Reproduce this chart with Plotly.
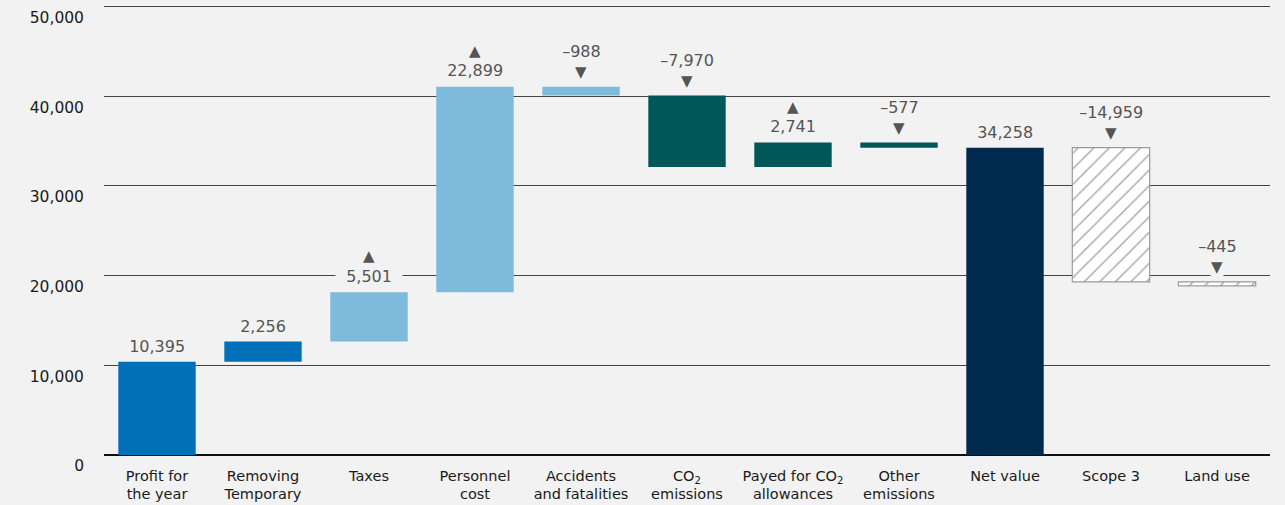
import plotly.graph_objects as go

categories = ["Profit for<br>the year", "Removing<br>Temporary", "Taxes", "Personnel<br>cost",
              "Accidents<br>and fatalities", "CO<sub>2</sub><br>emissions",
              "Payed for CO<sub>2</sub><br>allowances", "Other<br>emissions",
              "Net value", "Scope 3", "Land use"]
values = [10395, 2256, 5501, 22899, -988, -7970, 2741, -577, 34258, -14959, -445]
kinds = ["total", "delta_plain", "delta", "delta", "delta", "delta", "delta", "delta", "total", "delta", "delta"]
colors = ["#0070b8", "#0070b8", "#7dbadc", "#7dbadc", "#7dbadc", "#00575a", "#00575a", "#00575a",
          "#002a4e", "#ffffff", "#ffffff"]
hatched = [False] * 9 + [True, True]
y_ticks = [0, 10000, 20000, 30000, 40000, 50000]

# compute floating bar bases from running total
bases, heights, tops = [], [], []
running = 0
for v, k in zip(values, kinds):
    if k == "total":
        base = 0
        running = v
        top = v
        h = v
    else:
        start = running
        running = running + v
        base = min(start, running)
        h = abs(v)
        top = max(start, running)
    bases.append(base)
    heights.append(h)
    tops.append(top)

fig = go.Figure()
fig.add_trace(go.Bar(
    x=categories, y=heights, base=bases, width=0.73,
    marker=dict(
        color=colors,
        line=dict(color=["#9a9a9a" if h else "rgba(0,0,0,0)" for h in hatched],
                  width=[1.2 if h else 0 for h in hatched]),
        pattern=dict(shape=["/" if h else "" for h in hatched], fgcolor="#8a8a8a",
                     size=11, solidity=0.12, fillmode="overlay"),
    ),
    hoverinfo="skip", showlegend=False,
))

label_color = "#555555"
num_font = dict(family="DejaVu Sans", size=16, color=label_color)
tri_font = dict(family="DejaVu Sans", size=15, color=label_color)
bg = "#f2f2f2"
pad = "\u00a0\u00a0"
annotations = []
for cat, v, k, top in zip(categories, values, kinds, tops):
    txt = pad + f"{v:,}".replace("-", "–") + pad
    common = dict(x=cat, y=top, showarrow=False, yanchor="middle", bgcolor=bg, borderpad=0)
    if k in ("total", "delta_plain"):
        annotations.append(dict(text=txt, yshift=15, font=num_font, **common))
    elif v > 0:
        annotations.append(dict(text=txt, yshift=16, font=num_font, **common))
        annotations.append(dict(text="▲", yshift=36, font=tri_font, **common))
    else:
        annotations.append(dict(text=txt, yshift=35, font=num_font, **common))
        annotations.append(dict(text="▼", yshift=15, font=tri_font, **common))

fig.update_layout(
    width=1285, height=505,
    margin=dict(l=104, r=15, t=2, b=50),
    paper_bgcolor="#f2f2f2", plot_bgcolor="#f2f2f2",
    font=dict(family="DejaVu Sans", size=15, color="#1a1a1a"),
    annotations=annotations,
)
fig.update_yaxes(range=[0, 50500], tickvals=y_ticks, tickformat=",d",
                 showgrid=True, gridcolor="#444444", gridwidth=1,
                 zeroline=True, zerolinecolor="#111111", zerolinewidth=2,
                 ticks="", ticklabelstandoff=19, ticklabelshift=11,
                 tickfont=dict(family="DejaVu Sans", size=15.5, color="#1a1a1a"), fixedrange=True)
fig.update_xaxes(showgrid=False, ticks="", tickfont=dict(family="DejaVu Sans", size=14.5, color="#1a1a1a"),
                 ticklabelstandoff=10, fixedrange=True)

fig.write_html("out.html", config={"displayModeBar": False},
               post_script="document.body.style.margin='0';")
